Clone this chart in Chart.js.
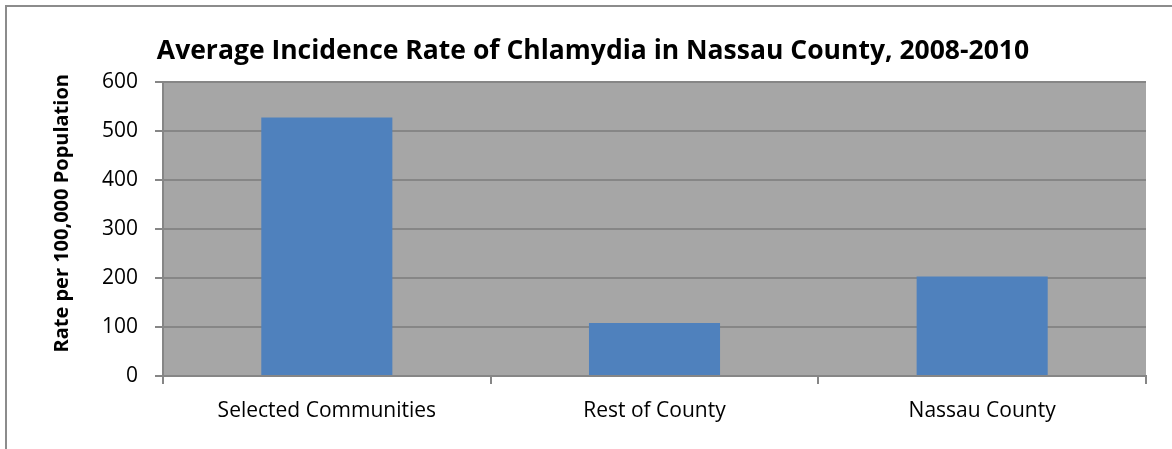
<!DOCTYPE html>
<html>
<head>
<meta charset="utf-8">
<script src="https://cdn.jsdelivr.net/npm/chart.js@4.4.0/dist/chart.umd.min.js"></script>
<style>
  html, body { margin: 0; padding: 0; background: #fff; }
  #wrap { position: absolute; left: 5px; top: 5px; width: 1180px; height: 460px; border-left: 2px solid #8c8c8c; border-top: 2px solid #8c8c8c; }
  #chart { position: absolute; left: 0; top: 0; }
</style>
</head>
<body>
<div id="wrap"></div>
<canvas id="chart" width="1172" height="449"></canvas>
<script>
const categories = ["Selected Communities", "Rest of County", "Nassau County"];
const rates = [527, 108, 203];
const yTicks = [0, 100, 200, 300, 400, 500, 600];

const FONT = "'Open Sans', 'Liberation Sans', sans-serif";

// gray plot background
const plotBg = {
  id: "plotBg",
  beforeDraw(chart) {
    const { ctx, chartArea: a } = chart;
    ctx.save();
    ctx.fillStyle = "#a6a6a6";
    ctx.fillRect(a.left, a.top, a.right - a.left, a.bottom - a.top);
    ctx.restore();
  }
};

const ctx = document.getElementById("chart").getContext("2d");
new Chart(ctx, {
  type: "bar",
  data: {
    labels: categories,
    datasets: [{
      data: rates,
      backgroundColor: "#4f81bd",
      barPercentage: 0.4,
      categoryPercentage: 1
    }]
  },
  options: {
    responsive: false,
    animation: false,
    layout: { padding: { left: 40, right: 26, top: 10, bottom: 10 } },
    plugins: {
      legend: { display: false },
      tooltip: { enabled: false },
      title: {
        display: true,
        text: "Average Incidence Rate of Chlamydia in Nassau County, 2008-2010",
        color: "#000",
        font: { family: FONT, size: 26.5, weight: "bold" },
        padding: { top: 26, bottom: 14 }
      }
    },
    scales: {
      x: {
        afterFit(scale) { scale.height = 63; },
        grid: { drawOnChartArea: false, color: "#868686", lineWidth: 2, tickLength: 8, offset: true },
        border: { color: "#868686", width: 2 },
        ticks: { color: "#000", font: { family: FONT, size: 21 }, padding: 14 }
      },
      y: {
        min: 0,
        max: 600,
        afterBuildTicks(scale) { scale.ticks = yTicks.map(v => ({ value: v })); },
        afterFit(scale) { scale.width = 123; },
        grid: { color: "#868686", lineWidth: 2, tickLength: 8 },
        border: { color: "#868686", width: 2 },
        ticks: { color: "#000", font: { family: FONT, size: 21 }, padding: 17 },
        title: {
          display: true,
          // leading blanks nudge the centred title upward, as in the original
          text: "\u00a0\u00a0\u00a0\u00a0\u00a0\u00a0Rate per 100,000 Population",
          color: "#000",
          font: { family: FONT, size: 20, weight: "bold" },
          padding: { top: 10, bottom: 0 }
        }
      }
    }
  },
  plugins: [plotBg]
});
</script>
</body>
</html>
